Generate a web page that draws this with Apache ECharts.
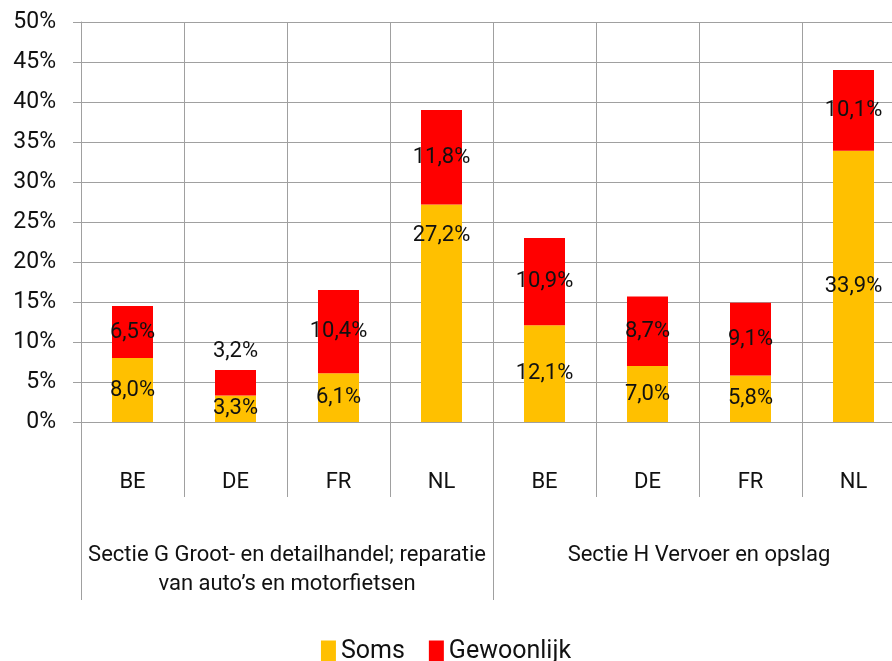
<!DOCTYPE html>
<html>
<head>
<meta charset="utf-8">
<script src="https://cdn.jsdelivr.net/npm/echarts@6/dist/echarts.min.js"></script>
<style>
  html, body { margin: 0; padding: 0; background: #fff; }
  #chart { width: 892px; height: 661px; }
</style>
</head>
<body>
<div id="chart"></div>
<script>
var countries = ['BE', 'DE', 'FR', 'NL', 'BE', 'DE', 'FR', 'NL'];
var sections = ['Sectie G Groot- en detailhandel; reparatie\nvan auto\u2019s en motorfietsen', 'Sectie H Vervoer en opslag'];
var soms = [8.0, 3.3, 6.1, 27.2, 12.1, 7.0, 5.8, 33.9];
var gewoonlijk = [6.5, 3.2, 10.4, 11.8, 10.9, 8.7, 9.1, 10.1];
var yTicks = [0, 5, 10, 15, 20, 25, 30, 35, 40, 45, 50];

var gridColor = '#a0a0a0';
var font = 'Roboto';

function fmt(v) {
	return v.toFixed(1).replace('.', ',') + '%';
}

var chart = echarts.init(document.getElementById('chart'));

var somsData = soms.map(function (v, i) {
	var item = { value: v };
	if (i === 3) {
		item.label = { offset: [0, -78] };
	}
	return item;
});

var gewoonData = gewoonlijk.map(function (v, i) {
	var item = { value: v };
	if (i === 1) {
		item.label = { position: 'top', distance: 8 };
	}
	return item;
});

var option = {
	animation: false,
	textStyle: { fontFamily: font },
	grid: { left: 81, top: 22, width: 824, height: 400, outerBoundsMode: 'none', containLabel: false },
	legend: {
		bottom: -8,
		left: 'center',
		itemWidth: 15,
		itemHeight: 22,
		itemGap: 24,
		icon: 'rect',
		textStyle: { fontSize: 25, color: '#111', fontFamily: font },
		data: ['Soms', 'Gewoonlijk']
	},
	xAxis: [{
		type: 'category',
		data: countries,
		position: 'bottom',
		axisLine: { show: true, lineStyle: { color: gridColor } },
		axisTick: { show: true, interval: 0, length: 75, lineStyle: { color: gridColor } },
		splitLine: { show: true, interval: 0, lineStyle: { color: gridColor } },
		axisLabel: { interval: 0, margin: 49, fontSize: 22, color: '#111', fontFamily: font }
	}, {
		type: 'category',
		data: sections,
		position: 'bottom',
		axisLine: { show: false },
		axisTick: { show: true, interval: 0, length: 178, lineStyle: { color: gridColor } },
		splitLine: { show: false },
		axisLabel: { interval: 0, margin: 119, fontSize: 22, lineHeight: 29, color: '#111', fontFamily: font }
	}],
	yAxis: {
		type: 'value',
		min: 0,
		max: 50,
		interval: 5,
		axisLine: { show: true, lineStyle: { color: gridColor } },
		axisTick: { show: true, length: 8, lineStyle: { color: gridColor } },
		splitLine: { show: true, lineStyle: { color: gridColor } },
		axisLabel: {
			margin: 25,
			fontSize: 23,
			color: '#111',
			fontFamily: font,
			formatter: function (v) {
				return yTicks.indexOf(v) >= 0 ? v + '%' : '';
			}
		}
	},
	series: [{
		name: 'Soms',
		type: 'bar',
		stack: 'total',
		barWidth: 41,
		itemStyle: { color: '#ffc000' },
		label: {
			show: true,
			position: 'inside',
			fontSize: 22,
			color: '#111',
			fontFamily: font,
			formatter: function (p) { return fmt(p.value); }
		},
		data: somsData
	}, {
		name: 'Gewoonlijk',
		type: 'bar',
		stack: 'total',
		barWidth: 41,
		itemStyle: { color: '#ff0000' },
		label: {
			show: true,
			position: 'inside',
			fontSize: 22,
			color: '#111',
			fontFamily: font,
			formatter: function (p) { return fmt(p.value); }
		},
		data: gewoonData
	}]
};

chart.setOption(option);
</script>
</body>
</html>
